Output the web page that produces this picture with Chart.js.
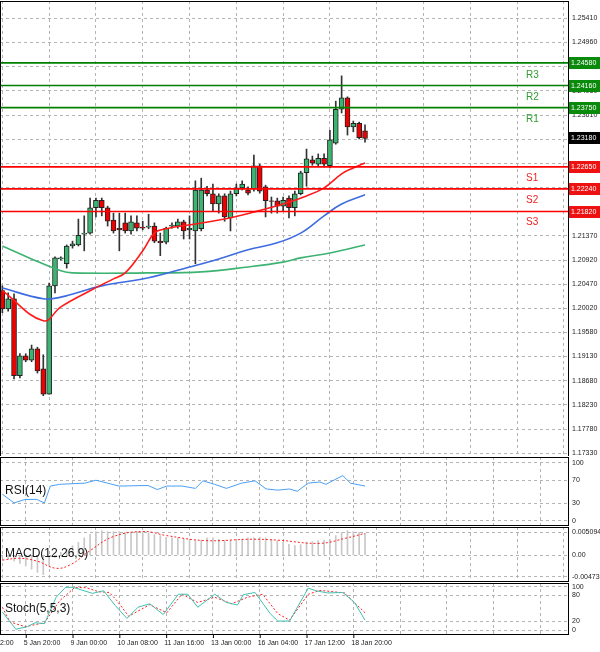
<!DOCTYPE html>
<html>
<head>
<meta charset="utf-8">
<script src="https://cdn.jsdelivr.net/npm/chart.js@4"></script>
<style>
  body { margin: 0; background: #fff; width: 600px; height: 652px; position: relative; overflow: hidden; }
  canvas { position: absolute; left: 0; }
</style>
</head>
<body>
<canvas id="main" width="600" height="456" style="top:0"></canvas>
<canvas id="rsi" width="600" height="70" style="top:456px"></canvas>
<canvas id="macd" width="600" height="56" style="top:526px"></canvas>
<canvas id="stoch" width="600" height="70" style="top:582px"></canvas>
<script>
// candles (4h bars)
const opens = [1.2035,1.2001,1.2020,1.1877,1.1914,1.1906,1.1927,1.1890,1.1843,1.2044,1.2094,1.2085,1.2118,1.2120,1.2140,1.2142,1.2189,1.2203,1.2189,1.2166,1.2151,1.2161,1.2146,1.2161,1.2153,1.2153,1.2155,1.2127,1.2125,1.2155,1.2155,1.2163,1.2148,1.2146,1.2150,1.2222,1.2215,1.2196,1.2211,1.2170,1.2215,1.2226,1.2222,1.2224,1.2267,1.2228,1.2202,1.2202,1.2192,1.2207,1.2189,1.2215,1.2254,1.2278,1.2270,1.2281,1.2267,1.2309,1.2372,1.2393,1.2339,1.2346,1.2332];
const highs = [1.2044,1.2031,1.2029,1.1918,1.1918,1.1934,1.1930,1.1916,1.2049,1.2098,1.2098,1.2120,1.2127,1.2168,1.2174,1.2207,1.2207,1.2207,1.2192,1.2179,1.2179,1.2179,1.2174,1.2174,1.2164,1.2177,1.2161,1.2142,1.2153,1.2161,1.2168,1.2166,1.2174,1.2239,1.2244,1.2229,1.2233,1.2215,1.2215,1.2220,1.2233,1.2239,1.2228,1.2287,1.2270,1.2231,1.2209,1.2207,1.2209,1.2211,1.2220,1.2257,1.2298,1.2285,1.2289,1.2289,1.2333,1.2387,1.2434,1.2395,1.2350,1.2348,1.2343];
const lows = [1.1994,1.1997,1.1871,1.1873,1.1903,1.1903,1.1882,1.1840,1.1843,1.2031,1.2092,1.2077,1.2114,1.2118,1.2109,1.2140,1.2172,1.2174,1.2155,1.2142,1.2109,1.2142,1.2140,1.2146,1.2148,1.2150,1.2124,1.2100,1.2122,1.2151,1.2151,1.2131,1.2131,1.2085,1.2146,1.2211,1.2183,1.2179,1.2164,1.2146,1.2211,1.2222,1.2213,1.2220,1.2216,1.2172,1.2179,1.2179,1.2183,1.2170,1.2174,1.2213,1.2229,1.2268,1.2265,1.2265,1.2263,1.2307,1.2365,1.2324,1.2330,1.2317,1.2311];
const closes = [1.2001,1.2020,1.1877,1.1914,1.1906,1.1927,1.1886,1.1843,1.2044,1.2096,1.2096,1.2118,1.2122,1.2138,1.2142,1.2189,1.2203,1.2189,1.2164,1.2146,1.2148,1.2146,1.2163,1.2151,1.2151,1.2155,1.2127,1.2124,1.2151,1.2157,1.2163,1.2146,1.2151,1.2222,1.2222,1.2215,1.2196,1.2211,1.2172,1.2215,1.2226,1.2233,1.2216,1.2267,1.2220,1.2202,1.2201,1.2192,1.2203,1.2189,1.2215,1.2254,1.2280,1.2272,1.2281,1.2270,1.2315,1.2372,1.2393,1.2339,1.2346,1.2319,1.2318];

// moving averages [bar index, value]
const maFast = [[0,1.2035],[7,1.1979],[10,1.2005],[15,1.2035],[19,1.2057],[21,1.2068],[24,1.2109],[26,1.2142],[28,1.2150],[33,1.2159],[38,1.2168],[43,1.2181],[48,1.2196],[52,1.2211],[55,1.2226],[58,1.2252],[60,1.2263],[62,1.2272]];
const maMid = [[0,1.2040],[7,1.2020],[10,1.2023],[17,1.2044],[25,1.2059],[32,1.2079],[37,1.2094],[42,1.2111],[47,1.2124],[51,1.2142],[55,1.2174],[58,1.2196],[62,1.2213]];
const maSlow = [[0,1.2118],[5,1.2094],[10,1.2072],[12,1.2068],[25,1.2068],[34,1.2070],[42,1.2079],[48,1.2088],[51,1.2096],[56,1.2105],[62,1.2120]];

const resistances = [1.2458, 1.2416, 1.2375];
const supports = [1.2265, 1.2224, 1.2182];
const lastPrice = 1.2318;
const priceTicks = [1.25410,1.24960,1.24510,1.24060,1.23610,1.23160,1.22710,1.22260,1.21820,1.21370,1.20920,1.20470,1.20020,1.19580,1.19130,1.18680,1.18230,1.17780,1.17330];

const rsi = [[0,46],[2,31],[3.9,37],[5.9,37],[7.2,31],[8.2,60],[9.8,63],[14.1,65],[16,70],[18,65],[19.9,60],[24.9,61],[26.5,54],[28.1,60],[30.7,60],[33,56],[34.3,69],[36.3,63],[38.3,56],[40.9,65],[43.2,69],[45.1,55],[47.1,53],[49.1,55],[50.4,51],[52.3,65],[54.3,67],[55.3,63],[58.2,78],[59.5,65],[62,60]];

const macdHist = [-0.0005,-0.0009,-0.0013,-0.0018,-0.0024,-0.0031,-0.0038,-0.0043,-0.0024,-0.0005,0.0006,0.0013,0.0021,0.0028,0.0038,0.0046,0.0052,0.0054,0.0052,0.0052,0.0052,0.0050,0.0050,0.0052,0.0050,0.0048,0.0045,0.0043,0.0039,0.0038,0.0038,0.0035,0.0033,0.0032,0.0033,0.0038,0.0038,0.0035,0.0033,0.0033,0.0032,0.0035,0.0038,0.0038,0.0039,0.0038,0.0035,0.0032,0.0028,0.0024,0.0021,0.0023,0.0028,0.0030,0.0032,0.0033,0.0035,0.0043,0.0050,0.0054,0.0052,0.0050,0.0048];
const macdSignal = [[0,-0.0011],[2.9,-0.0007],[5.9,-0.0013],[9.2,-0.0029],[11.8,-0.0020],[15,0.0010],[19,0.0041],[24.2,0.0052],[28.1,0.0043],[34.7,0.0032],[42.5,0.0035],[47.1,0.0033],[54.3,0.0026],[58.9,0.0038],[62,0.0048]];

const stochK = [[0,42],[2.3,2],[4.3,8],[5.6,17],[7.2,15],[9.2,76],[10.8,99],[12.1,99],[15.4,85],[17.3,91],[19.3,57],[21.3,27],[23.2,53],[25.2,61],[27.5,36],[30.1,83],[31.7,83],[33.4,53],[36.3,83],[38.3,64],[40.2,58],[41.2,82],[43.2,87],[45.8,38],[47.1,21],[49.1,21],[52.3,97],[53.6,91],[55.6,86],[58.2,87],[60.2,64],[62,23]];
const stochD = [[0,53],[1.3,19],[3.9,8],[7.2,17],[9.8,68],[12.4,99],[14.4,98],[16.4,89],[18.3,87],[19.6,68],[21.6,32],[25.2,59],[28.1,40],[30.7,83],[33.4,64],[36.3,76],[39.2,61],[41.9,76],[44.5,83],[47.1,38],[49.1,23],[52.3,83],[54.3,92],[58.5,86],[62,40]];

const timeLabels = ['2:00','5 Jan 20:00','9 Jan 00:00','10 Jan 08:00','11 Jan 16:00','13 Jan 00:00','16 Jan 04:00','17 Jan 12:00','18 Jan 20:00'];

const X_MIN = -0.4, X_MAX = 96.7;
const FONT = 'Liberation Sans, Arial, sans-serif';
const GRID = '#b4b4b4';

const pts = arr => arr.map(p => ({ x: p[0], y: p[1] }));

function xScale() {
  return {
    type: 'linear', min: X_MIN, max: X_MAX, offset: false,
    afterBuildTicks: s => { s.ticks = []; for (let v = -4; v <= 96; v += 8) s.ticks.push({ value: v }); },
    afterFit: a => { a.height = 0; },
    grid: { color: GRID, drawTicks: false },
    border: { display: false, dash: [3, 3] },
    ticks: { display: false }
  };
}
function yScale(min, max, ticks, fmt) {
  return {
    position: 'right', min: min, max: max,
    afterBuildTicks: s => { s.ticks = ticks.map(v => ({ value: v })); },
    afterFit: a => { a.width = 32; a.paddingTop = 0; a.paddingBottom = 0; },
    grid: { color: GRID, drawTicks: false },
    border: { display: false, dash: [3, 3] },
    ticks: { color: '#222', font: { family: FONT, size: 7 }, padding: 4, callback: fmt }
  };
}
const frame = label => ({
  id: 'frame',
  afterDraw(c) {
    const a = c.chartArea, ctx = c.ctx;
    ctx.save();
    ctx.strokeStyle = '#000'; ctx.lineWidth = 1;
    ctx.strokeRect(a.left + 0.5, a.top + 0.5, a.right - a.left, a.bottom - a.top);
    if (label) {
      ctx.fillStyle = '#111'; ctx.font = '12px ' + FONT; ctx.textBaseline = 'middle';
      ctx.fillText(label, 5, (a.top + a.bottom) / 2);
    }
    ctx.restore();
  }
});
const baseOpts = {
  responsive: false, animation: false, devicePixelRatio: 1,
  plugins: { legend: { display: false }, tooltip: { enabled: false } },
  elements: { point: { radius: 0 } }
};

// main chart
const idx = closes.map((_, i) => i);
const up = i => closes[i] >= opens[i];
const levelSet = (v, col) => ({
  type: 'line', data: [{ x: -1, y: v }, { x: 98, y: v }], borderColor: col, borderWidth: 1.6, order: 0
});
const tagPlugin = {
  id: 'tags',
  afterDraw(c) {
    const ctx = c.ctx, y = c.scales.y, a = c.chartArea;
    const tag = (v, bg) => {
      const py = Math.round(y.getPixelForValue(v));
      ctx.fillStyle = bg; ctx.fillRect(a.right + 1, py - 6, 31, 12);
      ctx.fillStyle = '#fff'; ctx.font = '7px ' + FONT; ctx.textBaseline = 'middle';
      ctx.fillText(v.toFixed(5), a.right + 3, py + 0.5);
    };
    ctx.save();
    resistances.forEach((v, i) => {
      tag(v, '#0a8a0a');
      ctx.fillStyle = '#2e9e2e'; ctx.font = '10px ' + FONT; ctx.textBaseline = 'middle';
      ctx.fillText('R' + (3 - i), 526, y.getPixelForValue(v) + 12);
    });
    supports.forEach((v, i) => {
      tag(v, '#ee1111');
      ctx.fillStyle = '#ee2222'; ctx.font = '10px ' + FONT; ctx.textBaseline = 'middle';
      ctx.fillText('S' + (i + 1), 526, y.getPixelForValue(v) + 11);
    });
    tag(lastPrice, '#000');
    ctx.restore();
  }
};
new Chart(document.getElementById('main'), {
  type: 'bar',
  data: {
    datasets: [
      { type: 'line', data: pts(maFast), borderColor: '#ff1a1a', borderWidth: 1.6, tension: 0.4, order: 1 },
      { type: 'line', data: pts(maMid), borderColor: '#3d6be0', borderWidth: 1.6, tension: 0.4, order: 1 },
      { type: 'line', data: pts(maSlow), borderColor: '#3cb371', borderWidth: 1.6, tension: 0.4, order: 1 },
      ...resistances.map(v => levelSet(v, '#008000')),
      ...supports.map(v => levelSet(v, '#ff0000')),
      { data: idx.map(i => ({ x: i, y: [lows[i], highs[i]] })), backgroundColor: '#333', barThickness: 1, grouped: false, order: 3 },
      { data: idx.map(i => ({ x: i, y: [opens[i], closes[i] + (Math.abs(closes[i] - opens[i]) < 0.00005 ? 0.00006 : 0)] })),
        backgroundColor: idx.map(i => up(i) ? '#3cb371' : '#ee0000'), borderColor: '#222', borderWidth: 1,
        borderSkipped: false, barThickness: 5, grouped: false, order: 2 }
    ]
  },
  options: {
    ...baseOpts,
    layout: { padding: { top: 1, right: 0, left: 0, bottom: 0 } },
    scales: { x: xScale(), y: yScale(1.1728, 1.2573, priceTicks, v => v.toFixed(5)) }
  },
  plugins: [frame(''), tagPlugin]
});

// RSI
new Chart(document.getElementById('rsi'), {
  type: 'line',
  data: { datasets: [{ data: pts(rsi), borderColor: '#4a9ff5', borderWidth: 1 }] },
  options: { ...baseOpts, layout: { padding: { top: 1, bottom: 1 } },
    scales: { x: xScale(), y: yScale(-7, 110, [0, 30, 70, 100], v => v) } },
  plugins: [frame('RSI(14)')]
});

// MACD
new Chart(document.getElementById('macd'), {
  type: 'bar',
  data: { datasets: [
    { type: 'line', data: pts(macdSignal), borderColor: '#ff2020', borderWidth: 1, borderDash: [2, 2], tension: 0.4, order: 0 },
    { data: idx.map(i => ({ x: i, y: macdHist[i] })), backgroundColor: '#c8c8c8', barThickness: 1, order: 1 }
  ] },
  options: { ...baseOpts, layout: { padding: { top: 1, bottom: 1 } },
    scales: { x: xScale(), y: yScale(-0.0057, 0.0062, [-0.004731, 0, 0.005094], v => v === 0 ? '0.00' : v.toFixed(6)) } },
  plugins: [frame('MACD(12,26,9)')]
});

// Stochastic, time labels drawn under it
const timeAxis = {
  id: 'timeAxis',
  afterDraw(c) {
    const ctx = c.ctx, x = c.scales.x, a = c.chartArea;
    ctx.save();
    ctx.fillStyle = '#222'; ctx.font = '7px ' + FONT; ctx.textBaseline = 'top';
    ctx.strokeStyle = '#000';
    timeLabels.forEach((t, k) => {
      const px = x.getPixelForValue(-4 + 8 * k);
      ctx.beginPath(); ctx.moveTo(px + 0.5, a.bottom); ctx.lineTo(px + 0.5, a.bottom + 4); ctx.stroke();
      ctx.fillText(t, k === 0 ? 0 : px - 2, a.bottom + 6);
    });
    ctx.restore();
  }
};
new Chart(document.getElementById('stoch'), {
  type: 'line',
  data: { datasets: [
    { data: pts(stochK), borderColor: '#40c0b0', borderWidth: 1 },
    { data: pts(stochD), borderColor: '#ff2020', borderWidth: 1, borderDash: [2, 2] }
  ] },
  options: { ...baseOpts, layout: { padding: { top: 1, bottom: 18 } },
    scales: { x: xScale(), y: yScale(-9, 109, [0, 20, 80, 100], v => v) } },
  plugins: [frame('Stoch(5,5,3)'), timeAxis]
});
</script>
</body>
</html>
